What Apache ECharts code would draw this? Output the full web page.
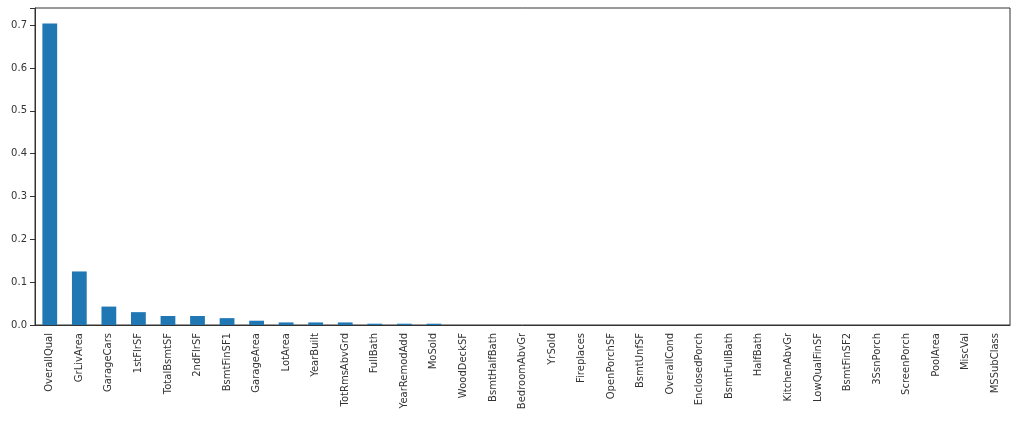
<!DOCTYPE html>
<html><head><meta charset="utf-8">
<script src="https://cdn.jsdelivr.net/npm/echarts@6/dist/echarts.min.js"></script>
<style>html,body{margin:0;padding:0;background:#fff}#c{width:1024px;height:438px}</style>
</head><body><div id="c"></div>
<script>
const categories = ["OverallQual","GrLivArea","GarageCars","1stFlrSF","TotalBsmtSF","2ndFlrSF","BsmtFinSF1","GarageArea","LotArea","YearBuilt","TotRmsAbvGrd","FullBath","YearRemodAdd","MoSold","WoodDeckSF","BsmtHalfBath","BedroomAbvGr","YrSold","Fireplaces","OpenPorchSF","BsmtUnfSF","OverallCond","EnclosedPorch","BsmtFullBath","HalfBath","KitchenAbvGr","LowQualFinSF","BsmtFinSF2","3SsnPorch","ScreenPorch","PoolArea","MiscVal","MSSubClass"];
const values = [0.704,0.125,0.043,0.030,0.021,0.021,0.016,0.010,0.006,0.006,0.006,0.003,0.003,0.003,0,0,0,0,0,0,0,0,0,0,0,0,0,0,0,0,0,0,0];
const yTicks = [0,0.1,0.2,0.3,0.4,0.5,0.6,0.7];
const chart = echarts.init(document.getElementById('c'));
const txt = {color:'#333',fontFamily:'DejaVu Sans',fontSize:10};
chart.setOption({
  animation:false,
  grid:{left:35,right:14,top:8,bottom:113},
  xAxis:{type:'category',data:categories,boundaryGap:true,
    axisLine:{lineStyle:{color:'#333'}},axisTick:{alignWithLabel:true,lineStyle:{color:'#333'}},
    axisLabel:Object.assign({rotate:90,interval:0},txt),splitLine:{show:false}},
  yAxis:{type:'value',min:-0.0,max:0.74,interval:0.1,
    axisLine:{show:true,lineStyle:{color:'#333'}},axisTick:{show:true,lineStyle:{color:'#333'}},
    axisLabel:Object.assign({formatter:v=>yTicks.some(t=>Math.abs(t-v)<1e-9)?v.toFixed(1):''},txt),
    splitLine:{show:false}},
  series:[{type:'bar',data:values,barWidth:'50%',itemStyle:{color:'#1f77b4'}}]
});
// frame on top/right
chart.setOption({graphic:[{type:'rect',shape:{x:35,y:8,width:1024-35-14,height:438-8-113},style:{fill:'none',stroke:'#333',lineWidth:1},silent:true}]});
</script></body></html>
